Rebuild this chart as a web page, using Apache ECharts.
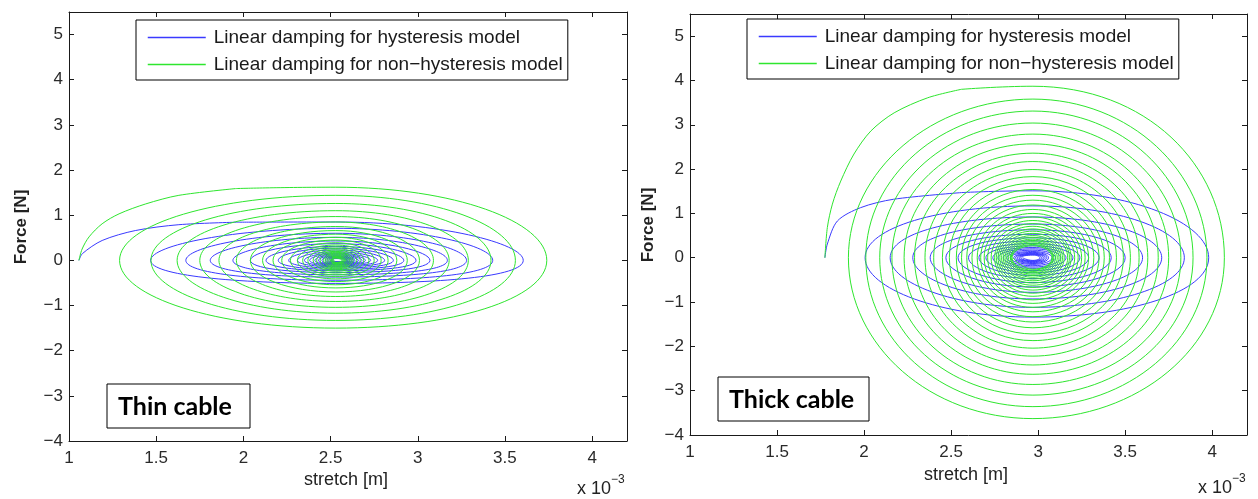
<!DOCTYPE html>
<html><head><meta charset="utf-8">
<script src="https://cdn.jsdelivr.net/npm/echarts@6/dist/echarts.min.js"></script>
<style>html,body{margin:0;padding:0;background:#fff}#c{width:1258px;height:499px}</style>
</head><body><div id="c"></div>
<script>
const seriesNames = ['Linear damping for hysteresis model', 'Linear damping for non\u2212hysteresis model'];
const xTicks = [1, 1.5, 2, 2.5, 3, 3.5, 4];
const yTicks = [-4, -3, -2, -1, 0, 1, 2, 3, 4, 5];
const panelTitles = ['Thin cable', 'Thick cable'];

// ---- Thin cable, hysteresis model (blue) ----
const thinBlueStartX = [1.057, 1.077, 1.19, 1.38, 1.63, 1.96];
const thinBlueStartY = [0, 0.15, 0.44, 0.66, 0.79, 0.845];
const thinBlueTop    = [0.85, 0.71, 0.60, 0.51, 0.43, 0.37, 0.31, 0.27, 0.23, 0.19, 0.16, 0.14, 0.12, 0.10, 0.09, 0.08, 0.07, 0.06, 0.05, 0.04];
const thinBlueRight  = [3.605, 3.43, 3.28, 3.17, 3.07, 2.99, 2.92, 2.86, 2.81, 2.77, 2.73, 2.70, 2.68, 2.66, 2.64, 2.63, 2.62, 2.61, 2.60, 2.595];
const thinBlueBottom = [-0.51, -0.44, -0.37, -0.32, -0.27, -0.23, -0.20, -0.17, -0.14, -0.12, -0.10, -0.09, -0.08, -0.07, -0.06, -0.05, -0.04, -0.035, -0.03, -0.025];
const thinBlueLeft   = [1.468, 1.67, 1.81, 1.94, 2.04, 2.13, 2.20, 2.26, 2.31, 2.35, 2.38, 2.41, 2.43, 2.45, 2.47, 2.48, 2.49, 2.50, 2.505, 2.51];

// ---- Thin cable, non-hysteresis model (green) ----
const thinGreenStartX = [1.057, 1.075, 1.115, 1.19, 1.287, 1.44, 1.63, 1.956];
const thinGreenStartY = [0, 0.25, 0.52, 0.81, 1.03, 1.25, 1.44, 1.59];
const thinGreenTop    = [1.62, 1.44, 1.26, 1.10, 0.97, 0.85, 0.75, 0.66, 0.58, 0.51, 0.45, 0.39, 0.34, 0.30, 0.26, 0.23, 0.20, 0.18, 0.16, 0.14, 0.12, 0.10, 0.085, 0.07, 0.06, 0.05];
const thinGreenRight  = [3.74, 3.56, 3.42, 3.29, 3.18, 3.09, 3.01, 2.94, 2.88, 2.83, 2.79, 2.75, 2.72, 2.69, 2.67, 2.65, 2.63, 2.62, 2.61, 2.60, 2.59, 2.585, 2.58, 2.575, 2.57, 2.565];
const thinGreenBottom = [-1.50, -1.33, -1.17, -1.04, -0.91, -0.80, -0.70, -0.61, -0.54, -0.47, -0.41, -0.36, -0.32, -0.28, -0.24, -0.21, -0.19, -0.17, -0.15, -0.13, -0.11, -0.09, -0.08, -0.065, -0.055, -0.045];
const thinGreenLeft   = [1.29, 1.47, 1.62, 1.75, 1.86, 1.96, 2.04, 2.11, 2.17, 2.22, 2.27, 2.31, 2.34, 2.37, 2.40, 2.42, 2.44, 2.46, 2.47, 2.48, 2.49, 2.50, 2.505, 2.51, 2.515, 2.52];
const thinCenter = 2.53;

// ---- Thick cable, hysteresis model (blue) ----
const thickBlueStartX = [1.775, 1.789, 1.847, 1.98, 2.17, 2.56];
const thickBlueStartY = [0, 0.31, 0.83, 1.13, 1.32, 1.47];
const thickBlueTop    = [1.51, 1.17, 0.92, 0.76, 0.63, 0.53, 0.45, 0.38, 0.32, 0.27, 0.23, 0.20, 0.17, 0.14, 0.12, 0.10, 0.09, 0.08, 0.07, 0.06];
const thickBlueRight  = [3.98, 3.84, 3.71, 3.60, 3.50, 3.42, 3.35, 3.29, 3.24, 3.20, 3.16, 3.13, 3.10, 3.08, 3.06, 3.05, 3.04, 3.03, 3.02, 3.01];
const thickBlueBottom = [-1.34, -1.12, -0.93, -0.78, -0.66, -0.56, -0.47, -0.40, -0.34, -0.29, -0.24, -0.21, -0.18, -0.15, -0.13, -0.11, -0.09, -0.08, -0.07, -0.06];
const thickBlueLeft   = [2.006, 2.15, 2.28, 2.38, 2.47, 2.54, 2.60, 2.66, 2.70, 2.74, 2.77, 2.80, 2.82, 2.84, 2.86, 2.87, 2.88, 2.89, 2.90, 2.91];

// ---- Thick cable, non-hysteresis model (green) ----
const thickGreenStartX = [1.775, 1.789, 1.818, 1.866, 1.942, 2.039, 2.173, 2.366, 2.558];
const thickGreenStartY = [0, 0.68, 1.21, 1.73, 2.34, 2.86, 3.27, 3.61, 3.80];
const thickGreenTop    = [3.87, 3.58, 3.31, 3.04, 2.79, 2.57, 2.36, 2.17, 1.99, 1.83, 1.68, 1.54, 1.41, 1.30, 1.19, 1.09, 1.00, 0.92, 0.84, 0.77, 0.71, 0.65, 0.60, 0.55, 0.50, 0.46, 0.42, 0.39, 0.36, 0.33, 0.30, 0.27];
const thickGreenRight  = [4.07, 3.97, 3.89, 3.82, 3.75, 3.69, 3.63, 3.58, 3.53, 3.49, 3.45, 3.41, 3.38, 3.35, 3.32, 3.29, 3.27, 3.25, 3.23, 3.21, 3.19, 3.18, 3.17, 3.15, 3.14, 3.13, 3.12, 3.11, 3.10, 3.09, 3.085, 3.08];
const thickGreenBottom = [-3.63, -3.36, -3.10, -2.86, -2.63, -2.42, -2.22, -2.04, -1.87, -1.72, -1.58, -1.45, -1.33, -1.22, -1.12, -1.03, -0.95, -0.87, -0.80, -0.73, -0.67, -0.62, -0.57, -0.52, -0.48, -0.44, -0.40, -0.37, -0.34, -0.31, -0.28, -0.26];
const thickGreenLeft   = [1.91, 2.01, 2.09, 2.16, 2.23, 2.29, 2.35, 2.40, 2.45, 2.49, 2.53, 2.56, 2.59, 2.62, 2.65, 2.67, 2.69, 2.71, 2.73, 2.75, 2.76, 2.77, 2.78, 2.79, 2.80, 2.81, 2.82, 2.83, 2.84, 2.845, 2.85, 2.855];
const thickCenter = 2.97;

function startCurve(sx, sy) {
  return sx.map((x, i) => [x, sy[i]]);
}
function spiral(sx, sy, tops, rights, bottoms, lefts, cx) {
  const last = sx.length - 1;
  const pts = [[sx[last], sy[last]]];
  for (let i = 0; i < tops.length; i++) {
    pts.push([cx, tops[i]]);
    pts.push([rights[i], 0]);
    pts.push([cx, bottoms[i]]);
    pts.push([lefts[i], 0]);
  }
  return pts;
}

const BLUE = '#3a3aff';
const GREEN = '#2ee62e';
const FONT = '"Liberation Sans", Arial, sans-serif';
const AX = '#1a1a1a';

const grids = [
  { left: 69, top: 12, width: 558, height: 429 },
  { left: 690, top: 14, width: 557, height: 421 }
];

function fmtX(v) { return xTicks.includes(v) ? String(v) : ''; }
function fmtY(v) { return yTicks.includes(v) ? String(v).replace('-', '\u2212') : ''; }

const xAxes = [], yAxes = [];
grids.forEach((g, gi) => {
  ['bottom', 'top'].forEach(pos => {
    xAxes.push({
      gridIndex: gi, type: 'value', position: pos, min: 1, max: 4.2, interval: 0.5,
      axisLine: { onZero: false, lineStyle: { color: AX, width: 1 } },
      axisTick: { inside: true, length: 5, lineStyle: { color: AX } },
      axisLabel: { show: pos === 'bottom', margin: 9, fontSize: 17, color: '#2a2a2a', fontFamily: FONT, formatter: fmtX, showMaxLabel: false },
      splitLine: { show: false }
    });
  });
  ['left', 'right'].forEach(pos => {
    yAxes.push({
      gridIndex: gi, type: 'value', position: pos, min: -4, max: 5.5, interval: 1,
      axisLine: { onZero: false, lineStyle: { color: AX, width: 1 } },
      axisTick: { inside: true, length: 5, lineStyle: { color: AX } },
      axisLabel: { show: pos === 'left', margin: 6, fontSize: 17, color: '#2a2a2a', fontFamily: FONT, formatter: fmtY, showMaxLabel: false },
      splitLine: { show: false }
    });
  });
});

function lineSeries(name, color, axisIdx, data, smooth) {
  return {
    type: 'line', name: name, xAxisIndex: axisIdx, yAxisIndex: axisIdx,
    data: data, showSymbol: false, symbol: 'none', smooth: smooth,
    lineStyle: { width: 1, color: color }, itemStyle: { color: color },
    animation: false
  };
}

const series = [
  lineSeries(seriesNames[0], BLUE, 0, startCurve(thinBlueStartX, thinBlueStartY), 0.3),
  lineSeries(seriesNames[0], BLUE, 0, spiral(thinBlueStartX, thinBlueStartY, thinBlueTop, thinBlueRight, thinBlueBottom, thinBlueLeft, thinCenter), 0.55),
  lineSeries(seriesNames[1], GREEN, 0, startCurve(thinGreenStartX, thinGreenStartY), 0.3),
  lineSeries(seriesNames[1], GREEN, 0, spiral(thinGreenStartX, thinGreenStartY, thinGreenTop, thinGreenRight, thinGreenBottom, thinGreenLeft, thinCenter), 0.55),
  lineSeries(seriesNames[0], BLUE, 2, startCurve(thickBlueStartX, thickBlueStartY), 0.3),
  lineSeries(seriesNames[0], BLUE, 2, spiral(thickBlueStartX, thickBlueStartY, thickBlueTop, thickBlueRight, thickBlueBottom, thickBlueLeft, thickCenter), 0.55),
  lineSeries(seriesNames[1], GREEN, 2, startCurve(thickGreenStartX, thickGreenStartY), 0.3),
  lineSeries(seriesNames[1], GREEN, 2, spiral(thickGreenStartX, thickGreenStartY, thickGreenTop, thickGreenRight, thickGreenBottom, thickGreenLeft, thickCenter), 0.55)
];

function legendAt(left, top) {
  return {
    left: left, top: top, orient: 'vertical', data: seriesNames,
    itemWidth: 58, itemHeight: 14, itemGap: 8,
    itemStyle: { opacity: 0 },
    lineStyle: { width: 1.5 },
    padding: [8, 5, 6, 11], borderColor: '#000', borderWidth: 1, backgroundColor: '#fff',
    textStyle: { fontSize: 19, color: '#1a1a1a', fontFamily: FONT, padding: [0, 0, 0, 3] },
    selectedMode: false
  };
}

function titleBox(x, y, w, h, txt) {
  return [
    { type: 'rect', shape: { x: x, y: y, width: w, height: h }, style: { fill: '#fff', stroke: '#000', lineWidth: 1 }, z: 100 },
    { type: 'text', x: x + 11, y: y + h / 2 + 1, style: { text: txt, font: 'bold 25px Lato, "Open Sans", sans-serif', fill: '#000', verticalAlign: 'middle' }, z: 101 }
  ];
}

function axisTexts(fx, fy, sx, sy, ex, ey) {
  return [
    { type: 'text', x: fx, y: fy, rotation: Math.PI / 2, style: { text: 'Force [N]', font: 'bold 17px ' + FONT, fill: '#222', align: 'center', verticalAlign: 'middle' } },
    { type: 'text', x: sx, y: sy, style: { text: 'stretch [m]', font: '18px ' + FONT, fill: '#222', align: 'center', verticalAlign: 'middle' } },
    { type: 'text', x: ex, y: ey, style: {
        text: '{a|x 10}{b|\u22123}',
        rich: { a: { font: '18px ' + FONT, fill: '#222', verticalAlign: 'bottom' }, b: { font: '12px ' + FONT, fill: '#222', verticalAlign: 'top', padding: [0, 0, 12, 0] } },
        verticalAlign: 'middle' } }
  ];
}

const chart = echarts.init(document.getElementById('c'), null, { renderer: 'canvas' });
chart.setOption({
  animation: false,
  backgroundColor: '#fff',
  grid: grids,
  xAxis: xAxes,
  yAxis: yAxes,
  legend: [legendAt(136, 20), legendAt(747, 19)],
  series: series,
  graphic: [].concat(
    titleBox(107, 384, 143, 44, panelTitles[0]),
    titleBox(718, 377, 151, 44, panelTitles[1]),
    axisTexts(21, 227, 346, 480, 577, 486),
    axisTexts(648, 225, 966, 475, 1198, 485)
  )
});
</script>
</body></html>
